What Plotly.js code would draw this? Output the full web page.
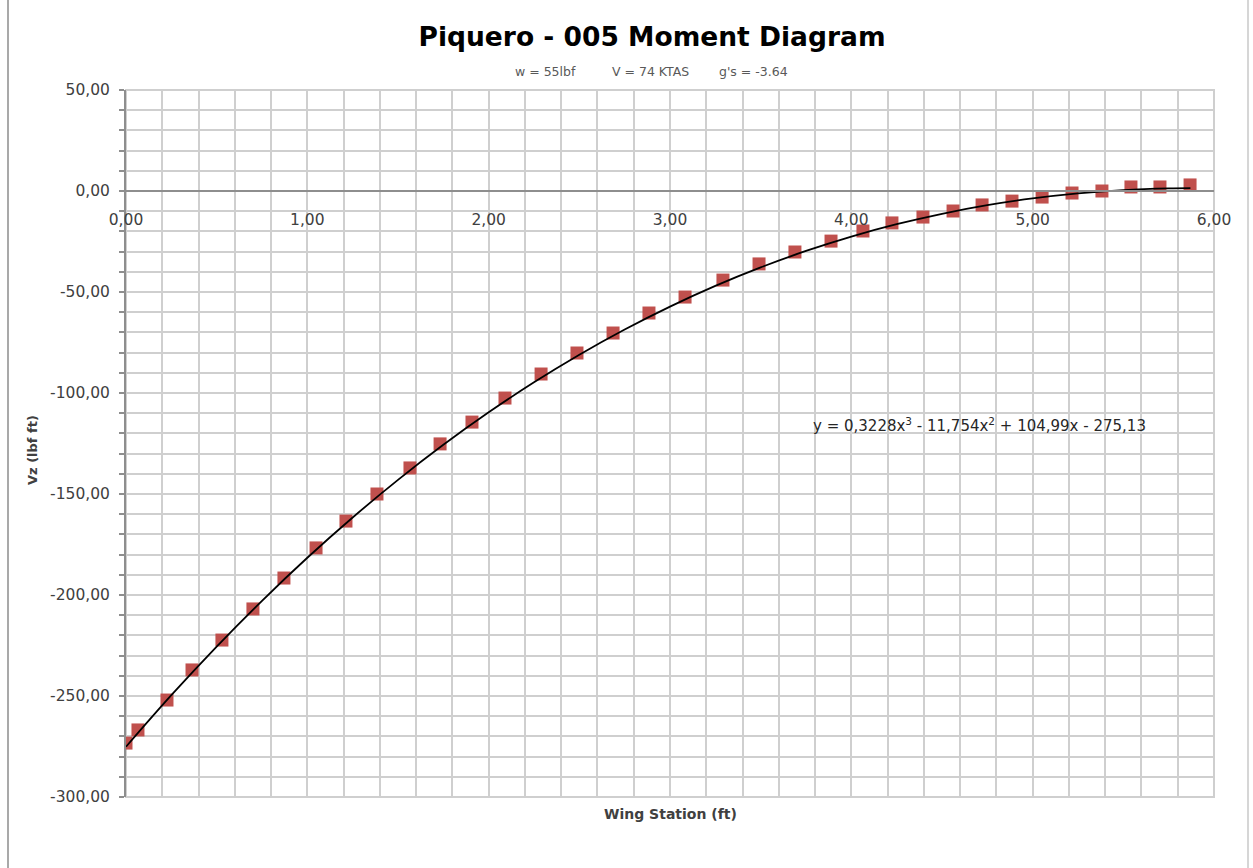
<!DOCTYPE html>
<html>
<head>
<meta charset="utf-8">
<script src="https://cdn.plot.ly/plotly-3.0.1.min.js"></script>
<style>html,body{margin:0;padding:0;background:#fff;}#chart{width:1253px;height:868px;}</style>
</head>
<body>
<div id="chart"></div>
<script>
// Data points (wing station in ft, moment in lbf ft)
const stationFt = [0.00, 0.066, 0.226, 0.364, 0.529, 0.700, 0.871, 1.048, 1.213, 1.384,
  1.566, 1.732, 1.908, 2.090, 2.289, 2.487, 2.686, 2.884, 3.083, 3.292,
  3.491, 3.689, 3.888, 4.064, 4.224, 4.395, 4.561, 4.721, 4.886, 5.052,
  5.217, 5.382, 5.542, 5.702, 5.868];
const momentLbfFt = [-273.3, -266.8, -252.0, -237.1, -222.3, -206.9, -191.6, -176.7, -163.4, -150.0,
  -137.1, -125.2, -114.4, -102.5, -90.6, -80.2, -70.3, -60.4, -52.5, -44.1,
  -36.1, -30.2, -24.8, -19.8, -15.8, -12.9, -9.9, -6.9, -5.0, -3.0,
  -1.0, 0.0, 2.0, 2.0, 3.0];

// Trend line (cubic) as drawn in the chart
const trendX = [0, 0.25, 0.5, 0.75, 1, 1.25, 1.5, 1.75, 2, 2.25, 2.5, 2.75, 3, 3.25, 3.5,
  3.75, 4, 4.25, 4.5, 4.75, 5, 5.25, 5.5, 5.75, 5.87];
const trendY = [-275.13, -249.61, -225.53, -202.86, -181.57, -161.63, -143.00, -125.66, -109.58,
  -94.73, -81.07, -68.58, -57.23, -46.98, -37.81, -29.69, -22.57, -16.45, -11.28, -7.03,
  -3.68, -1.19, 0.46, 1.31, 1.45];

// Tick labels
const yTickVals = [50, 0, -50, -100, -150, -200, -250, -300];
const yTickText = ["50,00", "0,00", "-50,00", "-100,00", "-150,00", "-200,00", "-250,00", "-300,00"];
const xTickVals = [0, 1, 2, 3, 4, 5, 6];
const xTickText = ["0,00", "1,00", "2,00", "3,00", "4,00", "5,00", "6,00"];

const chartTitle = "Piquero - 005 Moment Diagram";
const subTitleParts = ["w = 55lbf", "V = 74 KTAS", "g's = -3.64"];
const equation = "y = 0,3228x<sup>3</sup> - 11,754x<sup>2</sup> + 104,99x - 275,13";
const xTitle = "Wing Station (ft)";
const yTitle = "Vz (lbf ft)";

const FONT = "'DejaVu Sans', Verdana, sans-serif";
const GRID = "#cfcfcf";
const AXIS = "#8e8e8e";

const traces = [
  {
    x: stationFt, y: momentLbfFt, type: "scatter", mode: "markers",
    marker: {symbol: "square", size: 13, color: "#c0504d", line: {width: 0}},
    hoverinfo: "x+y", showlegend: false
  },
  {
    x: trendX, y: trendY, type: "scatter", mode: "lines",
    line: {color: "#000000", width: 1.8, shape: "spline"},
    hoverinfo: "skip", showlegend: false
  }
];

// pixel -> paper helpers (plot area: x 126..1214, y 90..797)
const px = v => (v - 126) / 1088;
const py = v => (797 - v) / 707;
const subCenters = [545, 650, 753];

const layout = {
  width: 1253, height: 868,
  margin: {l: 126, r: 39, t: 90, b: 71},
  paper_bgcolor: "#ffffff", plot_bgcolor: "#ffffff",
  separators: ", ",
  font: {family: FONT, color: "#404040", size: 15},
  showlegend: false,
  title: {
    text: "<b>" + chartTitle + "</b>",
    font: {family: FONT, size: 26.5, color: "#000000"},
    xref: "paper", x: px(652), xanchor: "center",
    yref: "container", y: 1 - 37 / 868, yanchor: "middle"
  },
  xaxis: {
    range: [0, 6], tickmode: "array", tickvals: xTickVals, ticktext: xTickText,
    anchor: "free", position: 300 / 350,
    showgrid: true, gridcolor: GRID, gridwidth: 2,
    minor: {dtick: 0.2, tick0: 0, showgrid: true, gridcolor: GRID, gridwidth: 2},
    showline: true, linecolor: AXIS, linewidth: 2,
    ticks: "", ticklabelstandoff: 14,
    zeroline: false,
    tickfont: {family: FONT, size: 15.5, color: "#404040"},
    fixedrange: true
  },
  yaxis: {
    range: [-300, 50], tickmode: "array", tickvals: yTickVals, ticktext: yTickText,
    showgrid: true, gridcolor: GRID, gridwidth: 2,
    minor: {dtick: 10, tick0: 0, showgrid: true, gridcolor: GRID, gridwidth: 2, ticks: "outside", ticklen: 5, tickcolor: AXIS, tickwidth: 2},
    showline: true, linecolor: AXIS, linewidth: 2,
    ticks: "outside", ticklen: 5, tickcolor: AXIS, tickwidth: 2, ticklabelstandoff: 6,
    zeroline: false,
    tickfont: {family: FONT, size: 15.5, color: "#404040"},
    fixedrange: true
  },
  shapes: [
    {type: "rect", xref: "paper", yref: "paper", x0: 0, x1: 1, y0: 0, y1: 1,
     line: {color: GRID, width: 2}, layer: "below"},
    {type: "line", xref: "paper", yref: "paper", x0: px(8), x1: px(8),
     y0: py(868), y1: py(0), line: {color: "#8c8c8c", width: 1.5}},
    {type: "line", xref: "paper", yref: "paper", x0: px(1248), x1: px(1248),
     y0: py(868), y1: py(0), line: {color: "#c8c8c8", width: 1.5}}
  ],
  annotations: subTitleParts.map((t, i) => ({
      text: t, xref: "paper", yref: "paper", x: px(subCenters[i]), y: py(71),
      xanchor: "center", yanchor: "middle", showarrow: false,
      font: {family: FONT, size: 12.5, color: "#595959"}
    })).concat([
    {text: equation, xref: "paper", yref: "paper", x: px(979), y: py(425),
     xanchor: "center", yanchor: "middle", showarrow: false,
     font: {family: FONT, size: 15, color: "#262626"}},
    {text: "<b>" + xTitle + "</b>", xref: "paper", yref: "paper", x: px(670), y: py(814),
     xanchor: "center", yanchor: "middle", showarrow: false,
     font: {family: FONT, size: 14, color: "#404040"}},
    {text: "<b>" + yTitle + "</b>", xref: "paper", yref: "paper", x: px(32), y: py(450),
     xanchor: "center", yanchor: "middle", showarrow: false, textangle: -90,
     font: {family: FONT, size: 13, color: "#404040"}}
  ])
};

Plotly.newPlot("chart", traces, layout, {displayModeBar: false, staticPlot: true});
</script>
</body>
</html>
